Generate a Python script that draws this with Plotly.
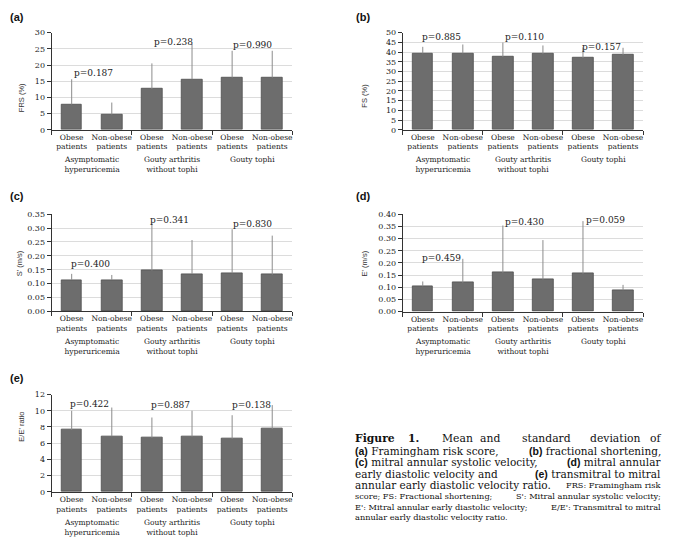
import plotly.graph_objects as go

# ---------------- data ----------------
categories = ["Obese<br>patients", "Non-obese<br>patients",
              "Obese<br>patients", "Non-obese<br>patients",
              "Obese<br>patients", "Non-obese<br>patients"]
groups = ["Asymptomatic<br>hyperuricemia", "Gouty arthritis<br>without tophi", "Gouty tophi"]

frs_mean = [7.8, 4.7, 12.6, 15.6, 16.1, 16.1]
frs_sd = [7.8, 3.7, 7.9, 10.9, 8.3, 8.3]
frs_p = ["p=0.187", "p=0.238", "p=0.990"]

fs_mean = [39.3, 39.3, 37.5, 39.1, 37.0, 38.6]
fs_sd = [3.4, 4.6, 7.4, 4.3, 5.4, 3.6]
fs_p = ["p=0.885", "p=0.110", "p=0.157"]

s_mean = [0.113, 0.113, 0.147, 0.135, 0.137, 0.132]
s_sd = [0.022, 0.018, 0.170, 0.122, 0.159, 0.141]
s_p = ["p=0.400", "p=0.341", "p=0.830"]

e_mean = [0.104, 0.119, 0.160, 0.132, 0.156, 0.088]
e_sd = [0.020, 0.098, 0.194, 0.162, 0.216, 0.022]
e_p = ["p=0.459", "p=0.430", "p=0.059"]

ee_mean = [7.64, 6.87, 6.67, 6.83, 6.55, 7.76]
ee_sd = [2.36, 3.53, 2.50, 3.17, 2.90, 2.94]
ee_p = ["p=0.422", "p=0.887", "p=0.138"]

# ---------------- layout spec ----------------
# reference pixel coords; the page body adds an 8px margin, so shift by OFF
OFF = 8
W, H = 685, 542
def fx(x):
    return (x - OFF) / W
def fy(y):
    return 1 - (y - OFF) / H

panels = [
    dict(tag="(a)", title="FRS (%)", mean=frs_mean, sd=frs_sd, p=frs_p,
         px=(51.7, 292.7), py=(29, 127.7), yr=[0, 30], dt=5, fmt="d",
         p_pos=[(0.54, 17.5), (2.53, 27.0), (4.5, 26.1)], tag_xy=(8, 13), title_x=15),
    dict(tag="(b)", title="FS (%)", mean=fs_mean, sd=fs_sd, p=fs_p,
         px=(403.3, 644), py=(29, 127.7), yr=[0, 50], dt=5, fmt="d",
         p_pos=[(0.46, 47.8), (2.53, 47.8), (4.45, 42.7)], tag_xy=(355, 13), title_x=365),
    dict(tag="(c)", title="S' (m/s)", mean=s_mean, sd=s_sd, p=s_p,
         px=(51.7, 292.7), py=(213.7, 312.3), yr=[0, 0.35], dt=0.05, fmt=".2f",
         p_pos=[(0.48, 0.171), (2.45, 0.330), (4.52, 0.316)], tag_xy=(8, 195), title_x=13),
    dict(tag="(d)", title="E' (m/s)", mean=e_mean, sd=e_sd, p=e_p,
         px=(403.3, 644), py=(213.7, 312.7), yr=[0, 0.40], dt=0.05, fmt=".2f",
         p_pos=[(0.47, 0.220), (2.53, 0.368), (4.57, 0.375)], tag_xy=(355, 195), title_x=365),
    dict(tag="(e)", title="E/E' ratio", mean=ee_mean, sd=ee_sd, p=ee_p,
         px=(51.7, 292.7), py=(397, 496), yr=[0, 12], dt=2, fmt="d",
         p_pos=[(0.45, 10.8), (2.46, 10.67), (4.48, 10.67)], tag_xy=(8, 380), title_x=15),
]

SERIF = "DejaVu Serif"
SANS = "Liberation Sans"
AXC = "#333333"

fig = go.Figure()
annotations = []
xs = list(range(6))

for i, pn in enumerate(panels):
    n = "" if i == 0 else str(i + 1)
    xa, ya = "x" + n, "y" + n
    fig.add_trace(go.Bar(
        x=xs, y=pn["mean"], width=0.52,
        marker=dict(color="#6d6d6d", line=dict(color="#4d4d4d", width=0.8)),
        error_y=dict(type="data", symmetric=False, array=pn["sd"],
                     arrayminus=[0] * 6, color="#8c8c8c", thickness=1, width=0),
        xaxis=xa, yaxis=ya, showlegend=False, hoverinfo="skip"))

    x0, x1 = pn["px"]
    y0, y1 = pn["py"]
    fig.layout["xaxis" + n] = dict(
        domain=[fx(x0), fx(x1)], anchor=ya, range=[-0.5, 5.5],
        tickmode="array", tickvals=xs, ticktext=categories, ticks="",
        tickfont=dict(family=SERIF, size=7.5, color="#222"),
        showline=True, linecolor=AXC, linewidth=1, showgrid=False, zeroline=False,
        minor=dict(tickmode="array", tickvals=[-0.5, 1.5, 3.5, 5.5], ticks="outside",
                   ticklen=4, tickcolor=AXC, tickwidth=1, showgrid=False),
        fixedrange=True)
    fig.layout["yaxis" + n] = dict(
        domain=[fy(y1), fy(y0)], anchor=xa, range=pn["yr"],
        tickmode="linear", tick0=0, dtick=pn["dt"], tickformat=pn["fmt"],
        ticks="outside", ticklen=4, tickcolor=AXC, tickwidth=1,
        tickfont=dict(family=SERIF, size=8, color="#222"),
        showline=True, linecolor=AXC, linewidth=1,
        showgrid=True, gridcolor="#dcdcdc", gridwidth=1, zeroline=False,
        fixedrange=True)

    for (px_, py_), txt in zip(pn["p_pos"], pn["p"]):
        annotations.append(dict(x=px_, y=py_, xref=xa, yref=ya, text=txt, showarrow=False,
                                font=dict(family=SERIF, size=9, color="#222")))
    for gi, g in enumerate(groups):
        annotations.append(dict(x=2 * gi + 0.5, y=-0.245, xref=xa, yref=ya + " domain",
                                text=g, showarrow=False, yanchor="top",
                                font=dict(family=SERIF, size=7.5, color="#222")))
    tx, ty = pn["tag_xy"]
    annotations.append(dict(x=fx(tx), y=fy(ty), xref="paper", yref="paper",
                            xanchor="left", yanchor="middle", text="<b>" + pn["tag"] + "</b>",
                            showarrow=False, font=dict(family=SANS, size=11, color="#111")))
    annotations.append(dict(x=fx(pn["title_x"]), y=fy((y0 + y1) / 2), xref="paper",
                            yref="paper", text=pn["title"], textangle=-90, showarrow=False,
                            font=dict(family=SANS, size=7.5, color="#333")))

# ---------------- caption ----------------
L, R = 355, 663
BIG, SMALL = 10.5, 8.2
def tag(t):
    return "<span style='font-family:Liberation Sans'><b>" + t + "</b></span>"
def cap(x, y, text, anchor="left", size=BIG):
    annotations.append(dict(x=fx(x), y=fy(y), xref="paper", yref="paper", text=text,
                            xanchor=anchor, yanchor="middle", showarrow=False, borderpad=0,
                            font=dict(family=SERIF, size=size, color="#111")))

line1 = [("<b>Figure</b>", 355), ("<b>1.</b>", 408), ("Mean", 442), ("and", 480),
         ("standard", 521.5), ("deviation", 590), ("of", 650)]
for w, x in line1:
    cap(x, 442, w, size=10.8)
cap(L, 454, tag("(a)") + " Framingham risk score,")
cap(R, 454, tag("(b)") + " fractional shortening,", "right")
cap(L, 466, tag("(c)") + " mitral annular systolic velocity,")
cap(R, 466, tag("(d)") + " mitral annular", "right")
cap(L, 477.5, "early diastolic velocity and")
cap(R, 477.5, tag("(e)") + " transmitral to mitral", "right")
cap(L, 489, "annular early diastolic velocity ratio.")
cap(R, 489, "FRS: Framingham risk", "right", size=SMALL)
cap(L, 500.5, "score; FS: Fractional shortening;", size=SMALL)
cap(R, 500.5, "S': Mitral annular systolic velocity;", "right", size=SMALL)
cap(L, 511, "E': Mitral annular early diastolic velocity;", size=SMALL)
cap(R, 511, "E/E': Transmitral to mitral", "right", size=SMALL)
cap(L, 521.5, "annular early diastolic velocity ratio.", size=SMALL)

fig.update_layout(width=W, height=H, margin=dict(l=0, r=0, t=0, b=0),
                  paper_bgcolor="white", plot_bgcolor="white",
                  annotations=annotations, bargap=0)
fig.write_html("out.html")
